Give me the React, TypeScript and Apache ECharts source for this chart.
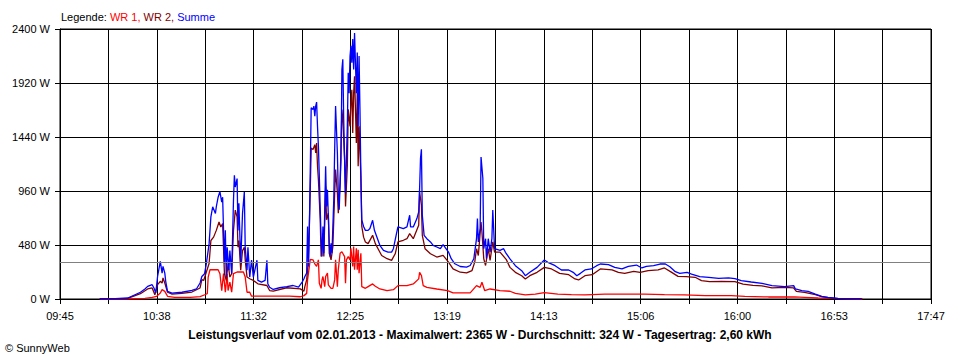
import React, { useEffect, useRef } from "react";
import * as echarts from "echarts";

const START_TIME = "09:45";
const END_TIME = "17:47";
const xTickLabels = ["09:45", "10:38", "11:32", "12:25", "13:19", "14:13", "15:06", "16:00", "16:53", "17:47"];
const yMax = 2400;
const yStep = 480;
const avgValue = 324;
const legendLabels = ["WR 1", "WR 2", "Summe"];
const bottomTitle =
  "Leistungsverlauf vom 02.01.2013 - Maximalwert: 2365 W - Durchschnitt: 324 W - Tagesertrag: 2,60 kWh";
const copyright = "© SunnyWeb";

const wr1: [string, number][] = [
  ["10:07", 0], ["10:22:30", 0], ["10:32", 6], ["10:36", 15], ["10:38:30", 24], ["10:40:30", 53],
  ["10:41:30", 83], ["10:43", 68], ["10:44:30", 24], ["10:48:30", 15], ["10:57", 15], ["11:02:30", 21],
  ["11:05:30", 40], ["11:06:30", 47], ["11:07", 195], ["11:08", 260], ["11:11", 260], ["11:12:30", 260],
  ["11:13:30", 225], ["11:14:30", 75], ["11:15:30", 225], ["11:16:30", 60], ["11:17:30", 225], ["11:18", 75],
  ["11:19", 150], ["11:20", 60], ["11:21", 225], ["11:23", 240], ["11:26:30", 240], ["11:27:30", 195],
  ["11:28:30", 60], ["11:30", 60], ["11:31", 25], ["11:41", 25], ["11:52", 25], ["11:58", 20],
  ["12:00", 30], ["12:01:30", 50], ["12:02", 170], ["12:03", 290], ["12:03:30", 353], ["12:05", 348],
  ["12:06", 312], ["12:07", 290], ["12:08", 348], ["12:08:30", 140], ["12:09:30", 95], ["12:10", 170],
  ["12:10:30", 200], ["12:11:30", 110], ["12:12", 200], ["12:13", 230], ["12:13:30", 125], ["12:15", 95],
  ["12:16", 95], ["12:17", 170], ["12:17:30", 348], ["12:18:30", 110], ["12:19", 260], ["12:20", 407],
  ["12:21", 420], ["12:22:30", 377], ["12:23", 140], ["12:23:30", 348], ["12:24:30", 377], ["12:25:30", 348],
  ["12:26", 450], ["12:27", 290], ["12:27:30", 466], ["12:28", 260], ["12:29", 450], ["12:29:30", 260],
  ["12:30", 437], ["12:30:30", 230], ["12:31:30", 407], ["12:32", 110], ["12:34", 95], ["12:35:30", 110],
  ["12:38", 134], ["12:39:30", 113], ["12:42", 89], ["12:46", 75], ["12:49:30", 83], ["12:52", 119],
  ["12:57", 119], ["13:00:30", 134], ["13:03:30", 179], ["13:04", 238], ["13:05", 209], ["13:06", 119],
  ["13:08", 104], ["13:13:30", 89], ["13:19:30", 75], ["13:22:30", 54], ["13:32", 54], ["13:35:30", 119],
  ["13:37:30", 104], ["13:38:30", 149], ["13:40", 75], ["13:43", 89], ["13:48:30", 75], ["13:54", 69],
  ["13:57", 50], ["14:02:30", 36], ["14:08", 44], ["14:13", 56], ["14:20:30", 44], ["14:28", 39],
  ["14:35:30", 36], ["14:46:30", 44], ["14:57:30", 44], ["15:08:30", 44], ["15:19:30", 39], ["15:30:30", 36],
  ["15:42", 30], ["15:56:30", 30], ["16:04", 24], ["16:17", 18], ["16:31:30", 18], ["16:37", 15],
  ["16:44:30", 9], ["16:54", 3], ["17:09", 0],
];

const wr2: [string, number][] = [
  ["10:07", 0], ["10:22:30", 6], ["10:29:30", 47], ["10:33:30", 89], ["10:36", 98], ["10:37:30", 38],
  ["10:39", 127], ["10:40:30", 157], ["10:41:30", 142], ["10:42", 187], ["10:43", 142], ["10:44:30", 60],
  ["10:47", 44], ["10:52:30", 50], ["10:58", 62], ["11:02:30", 98], ["11:03:30", 172], ["11:04:30", 165],
  ["11:07:30", 315], ["11:08:30", 520], ["11:10", 550], ["11:11:30", 610], ["11:13", 685], ["11:14", 640],
  ["11:15", 670], ["11:16", 225], ["11:17", 165], ["11:18", 315], ["11:19", 195], ["11:20", 225],
  ["11:21", 610], ["11:22", 790], ["11:23", 730], ["11:23:30", 460], ["11:24", 520], ["11:25", 255],
  ["11:26", 430], ["11:27", 460], ["11:27:30", 345], ["11:28:30", 195], ["11:30", 180], ["11:32", 165],
  ["11:34:30", 135], ["11:39:30", 120], ["11:41", 75], ["11:43", 70], ["11:50:30", 100], ["11:58", 90],
  ["12:00", 70], ["12:00:30", 110], ["12:01:30", 170], ["12:02:30", 348], ["12:03:30", 971], ["12:04", 1342],
  ["12:05", 1328], ["12:06", 1372], ["12:06:30", 1298], ["12:07", 1387], ["12:07:30", 1180], ["12:08", 1060],
  ["12:09", 704], ["12:09:30", 377], ["12:10:30", 585], ["12:11", 377], ["12:12", 1000], ["12:12:30", 704],
  ["12:13:30", 763], ["12:14", 407], ["12:15", 348], ["12:15:30", 407], ["12:16", 466], ["12:17", 940],
  ["12:17:30", 1150], ["12:18:30", 940], ["12:19", 763], ["12:20", 1030], ["12:21", 1685], ["12:21:30", 1595],
  ["12:22:30", 1238], ["12:23", 823], ["12:24", 1180], ["12:24:30", 1685], ["12:25:30", 1535], ["12:26", 1745],
  ["12:26:30", 1860], ["12:27", 1475], ["12:27:30", 1830], ["12:28", 1980], ["12:29", 1387], ["12:29:30", 1830],
  ["12:30", 1180], ["12:30:30", 1535], ["12:31:30", 1090], ["12:32", 645], ["12:33", 550], ["12:34", 507],
  ["12:35:30", 492], ["12:38", 566], ["12:39:30", 492], ["12:41", 447], ["12:43", 387], ["12:46", 358],
  ["12:48:30", 343], ["12:50:30", 402], ["12:52", 507], ["12:55", 522], ["12:57", 536], ["12:58:30", 581],
  ["13:00:30", 536], ["13:03:30", 655], ["13:04", 953], ["13:05", 834], ["13:05:30", 566], ["13:07", 447],
  ["13:10", 402], ["13:13:30", 373], ["13:17", 387], ["13:20", 328], ["13:22:30", 268], ["13:26:30", 238],
  ["13:30", 232], ["13:33", 253], ["13:34:30", 328], ["13:35:30", 447], ["13:36:30", 387], ["13:38", 685],
  ["13:38:30", 596], ["13:39:30", 358], ["13:40:30", 298], ["13:42", 447], ["13:43", 343], ["13:44:30", 507],
  ["13:45:30", 417], ["13:48:30", 417], ["13:52", 350], ["13:54", 281], ["13:57", 237], ["14:00:30", 207],
  ["14:02:30", 178], ["14:05", 207], ["14:09", 237], ["14:13", 281], ["14:17", 267], ["14:21:30", 228],
  ["14:26:30", 216], ["14:30", 178], ["14:32", 169], ["14:35:30", 207], ["14:39:30", 216], ["14:44", 267],
  ["14:50:30", 258], ["14:54", 237], ["14:57:30", 228], ["15:02:30", 246], ["15:06", 237], ["15:10:30", 252],
  ["15:16", 258], ["15:19:30", 276], ["15:23:30", 237], ["15:27", 201], ["15:31:30", 199], ["15:36:30", 193],
  ["15:40", 163], ["15:44:30", 154], ["15:51", 157], ["15:58:30", 154], ["16:03", 133], ["16:08:30", 121],
  ["16:13:30", 116], ["16:19", 98], ["16:26", 104], ["16:31", 98], ["16:32:30", 68], ["16:37", 59],
  ["16:43", 39], ["16:46:30", 21], ["16:50", 12], ["16:55:30", 3], ["17:09", 0],
];

const summe: [string, number][] = [
  ["10:07", 0], ["10:08", 3], ["10:15:30", 3], ["10:22:30", 9], ["10:26:30", 38], ["10:29:30", 60],
  ["10:32", 89], ["10:33:30", 112], ["10:36", 127], ["10:37", 98], ["10:38", 53], ["10:39", 200],
  ["10:40:30", 335], ["10:41:30", 230], ["10:42", 290], ["10:43", 230], ["10:43:30", 157], ["10:44:30", 68],
  ["10:47", 53], ["10:52:30", 60], ["10:58", 77], ["11:00:30", 89], ["11:02:30", 142], ["11:03:30", 200],
  ["11:05", 225], ["11:06", 315], ["11:07:30", 490], ["11:08:30", 730], ["11:09:30", 820], ["11:11", 760],
  ["11:11:30", 820], ["11:12:30", 905], ["11:13:30", 955], ["11:14:30", 860], ["11:15", 905], ["11:16", 315],
  ["11:16:30", 610], ["11:17", 195], ["11:17:30", 460], ["11:18:30", 255], ["11:19", 430], ["11:20", 225],
  ["11:21", 875], ["11:21:30", 1100], ["11:22", 995], ["11:23", 1070], ["11:23:30", 610], ["11:24", 850],
  ["11:25", 315], ["11:26", 760], ["11:27", 950], ["11:27:30", 460], ["11:28:30", 255], ["11:29", 460],
  ["11:30", 195], ["11:31", 345], ["11:32", 195], ["11:34", 345], ["11:34:30", 165], ["11:36:30", 150],
  ["11:38:30", 165], ["11:39:30", 345], ["11:40", 135], ["11:41", 105], ["11:43", 85], ["11:46:30", 100],
  ["11:50:30", 110], ["11:54", 120], ["11:57", 105], ["11:59", 150], ["12:00", 180], ["12:00:30", 200],
  ["12:01:30", 230], ["12:02", 645], ["12:02:30", 290], ["12:03", 645], ["12:03:30", 1150], ["12:04", 1700],
  ["12:05", 1685], ["12:05:30", 1715], ["12:06", 1625], ["12:06:30", 1715], ["12:07", 1750], ["12:07:30", 1535],
  ["12:08", 1357], ["12:08:30", 1090], ["12:09:30", 525], ["12:10", 377], ["12:10:30", 645], ["12:11", 407],
  ["12:12", 1180], ["12:12:30", 823], ["12:13", 970], ["12:14", 496], ["12:14:30", 377], ["12:15", 496],
  ["12:15:30", 407], ["12:16:30", 882], ["12:17", 1328], ["12:17:30", 1715], ["12:18:30", 1298], ["12:19", 940],
  ["12:19:30", 793], ["12:20:30", 1238], ["12:21", 2040], ["12:21:30", 2130], ["12:22", 1595], ["12:22:30", 1238],
  ["12:23", 940], ["12:24", 1535], ["12:24:30", 2010], ["12:25", 1830], ["12:25:30", 2160], ["12:26", 2250],
  ["12:26:30", 2100], ["12:27", 2310], ["12:27:30", 2040], ["12:28", 2365], ["12:29", 1830], ["12:29:30", 2190],
  ["12:30", 1535], ["12:30:30", 2160], ["12:31", 1685], ["12:31:30", 1090], ["12:32", 704], ["12:33", 645],
  ["12:34", 610], ["12:35:30", 610], ["12:36:30", 626], ["12:38", 700], ["12:39", 611], ["12:40", 566],
  ["12:42", 477], ["12:44", 432], ["12:46:30", 417], ["12:48:30", 417], ["12:49:30", 447], ["12:51", 566],
  ["12:52", 641], ["12:55", 626], ["12:57", 641], ["12:58:30", 745], ["12:59", 641], ["13:00:30", 641],
  ["13:02:30", 715], ["13:03:30", 775], ["13:04", 983], ["13:04:30", 1250], ["13:05", 1330], ["13:05:30", 745],
  ["13:06:30", 566], ["13:08", 536], ["13:10", 507], ["13:11:30", 477], ["13:13:30", 462], ["13:15:30", 447],
  ["13:17", 483], ["13:18", 462], ["13:20", 417], ["13:21:30", 358], ["13:23:30", 313], ["13:26:30", 289],
  ["13:30", 283], ["13:32", 298], ["13:34", 358], ["13:35:30", 536], ["13:36", 715], ["13:36:30", 507],
  ["13:37:30", 626], ["13:38", 1262], ["13:39", 1073], ["13:39:30", 447], ["13:40:30", 536], ["13:41", 358],
  ["13:42", 536], ["13:43", 417], ["13:44", 536], ["13:44:30", 790], ["13:45:30", 447], ["13:48:30", 432],
  ["13:50:30", 447], ["13:51:30", 415], ["13:54", 356], ["13:57", 296], ["14:00:30", 252], ["14:02:30", 207],
  ["14:05", 237], ["14:09", 281], ["14:13", 347], ["14:15", 326], ["14:19", 296], ["14:22:30", 258],
  ["14:26:30", 258], ["14:29", 237], ["14:31", 207], ["14:33", 228], ["14:35:30", 258], ["14:39", 267],
  ["14:42", 296], ["14:44", 311], ["14:48:30", 305], ["14:52", 281], ["14:56", 267], ["14:59:30", 290],
  ["15:04", 302], ["15:07", 276], ["15:09:30", 290], ["15:13:30", 296], ["15:17", 311], ["15:20", 311],
  ["15:22:30", 287], ["15:25:30", 243], ["15:28", 228], ["15:32", 237], ["15:34:30", 222], ["15:39", 199],
  ["15:44", 193], ["15:49:30", 184], ["15:55", 187], ["15:58:30", 181], ["16:02", 163], ["16:07:30", 151],
  ["16:13:30", 139], ["16:19", 119], ["16:26", 110], ["16:31", 119], ["16:32", 89], ["16:35:30", 74],
  ["16:39", 68], ["16:43", 44], ["16:46:30", 24], ["16:50", 15], ["16:55:30", 6], ["17:08:30", 3],
];

const FONT = "'Liberation Sans', Arial, sans-serif";

function toMin(t: string): number {
  const [h, m, s] = t.split(":").map(Number);
  return h * 60 + m + (s || 0) / 60;
}

const startMin = toMin(START_TIME);
const xSpan = toMin(END_TIME) - startMin;
const xInterval = xSpan / ((xTickLabels.length - 1) * 2);

function toPoints(arr: [string, number][]) {
  return arr.map(([t, v]) => [toMin(t) - startMin, v]);
}

export default function App() {
  const ref = useRef<HTMLDivElement>(null);
  useEffect(() => {
    if (!ref.current) return;
    const chart = echarts.init(ref.current, undefined, { renderer: "svg" });
    const colors = ["#ff0000", "#800000", "#0000ff"];
    const seriesData = [wr1, wr2, summe];
    chart.setOption({
      animation: false,
      backgroundColor: "#ffffff",
      textStyle: { fontFamily: FONT },
      title: [
        {
          left: 61,
          top: 11,
          padding: 0,
          text:
            "{k|Legende: }" +
            `{a|${legendLabels[0]}, }{b|${legendLabels[1]}, }{c|${legendLabels[2]}}`,
          textStyle: {
            fontSize: 11,
            fontWeight: "normal",
            fontFamily: FONT,
            rich: {
              k: { color: "#000000", fontSize: 11, fontFamily: FONT },
              a: { color: colors[0], fontSize: 11, fontFamily: FONT },
              b: { color: colors[1], fontSize: 11, fontFamily: FONT },
              c: { color: colors[2], fontSize: 11, fontFamily: FONT },
            },
          },
        },
        {
          left: "center",
          top: 329,
          padding: 0,
          text: bottomTitle,
          textStyle: { fontSize: 12, fontWeight: "bold", color: "#000", fontFamily: FONT },
        },
        {
          left: 5,
          top: 342,
          padding: 0,
          text: copyright,
          textStyle: { fontSize: 11, fontWeight: "normal", color: "#000", fontFamily: FONT },
        },
      ],
      grid: {
        left: 60,
        top: 29,
        width: 871,
        height: 270,
        show: true,
        borderColor: "#000000",
        borderWidth: 1,
        backgroundColor: "transparent",
      },
      xAxis: {
        type: "value",
        min: 0,
        max: xSpan,
        interval: xInterval,
        axisLine: { show: true, lineStyle: { color: "#000", width: 1 } },
        axisTick: { show: true, length: 5, lineStyle: { color: "#000", width: 1 } },
        splitLine: { show: true, lineStyle: { color: "#000", width: 1 } },
        axisLabel: {
          color: "#000",
          fontSize: 11,
          fontFamily: FONT,
          margin: 11,
          showMinLabel: true,
          showMaxLabel: true,
          formatter: (v: number) => {
            const i = Math.round(v / xInterval);
            return i % 2 === 0 ? xTickLabels[i / 2] ?? "" : "";
          },
        },
      },
      yAxis: {
        type: "value",
        min: 0,
        max: yMax,
        interval: yStep,
        axisLine: { show: true, lineStyle: { color: "#000", width: 1 } },
        axisTick: { show: true, length: 5, lineStyle: { color: "#000", width: 1 } },
        splitLine: { show: true, lineStyle: { color: "#000", width: 1 } },
        axisLabel: {
          color: "#000",
          fontSize: 11,
          fontFamily: FONT,
          margin: 10,
          formatter: (v: number) => `${v} W`,
        },
      },
      series: seriesData.map((d, i) => ({
        name: legendLabels[i],
        type: "line",
        data: toPoints(d),
        showSymbol: false,
        symbol: "none",
        lineStyle: { color: colors[i], width: 1.3 },
        itemStyle: { color: colors[i] },
        z: 2 + i,
        ...(i === 0
          ? {
              markLine: {
                silent: true,
                symbol: ["none", "none"],
                label: { show: false },
                lineStyle: { color: "#808080", type: "solid", width: 1 },
                data: [{ yAxis: avgValue }],
              },
            }
          : {}),
      })),
    });
    return () => chart.dispose();
  }, []);
  return (
    <div
      ref={ref}
      style={{ position: "fixed", left: 0, top: 0, width: 960, height: 360, background: "#fff" }}
    />
  );
}
